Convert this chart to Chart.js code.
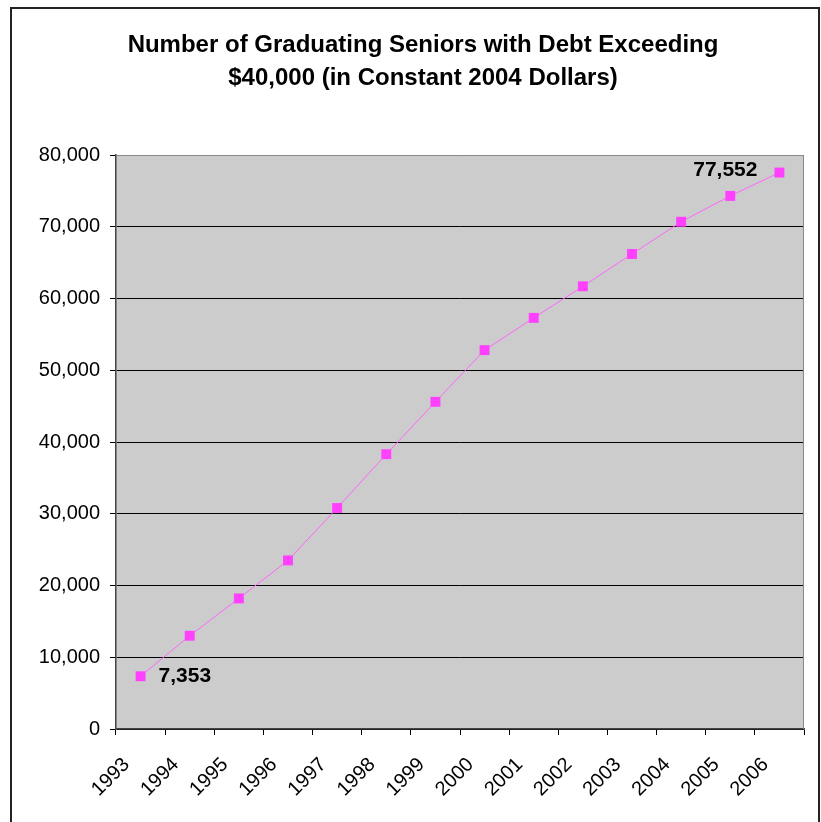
<!DOCTYPE html>
<html>
<head>
<meta charset="utf-8">
<script src="https://cdn.jsdelivr.net/npm/chart.js@4"></script>
<style>
  html, body { margin: 0; padding: 0; background: #fff; }
  #wrap { width: 821px; height: 822px; position: relative; }
</style>
</head>
<body>
<div id="wrap"><canvas id="lineChart"></canvas></div>
<script>
const anos = ["1993", "1994", "1995", "1996", "1997", "1998", "1999", "2000", "2001", "2002", "2003", "2004", "2005", "2006"];
const formandos = [7353, 13000, 18200, 23500, 30800, 38300, 45600, 52800, 57300, 61700, 66200, 70700, 74300, 77552];
const tituloLinhas = ["Number of Graduating Seniors with Debt Exceeding", "$40,000 (in Constant 2004 Dollars)"];

const fonte = '"Liberation Sans", Arial, sans-serif';

// fundo cinza, moldura externa e titulo
const fundo = {
    id: 'fundo',
    beforeDraw(chart) {
        const { ctx, chartArea: a } = chart;
        ctx.save();
        ctx.strokeStyle = '#222';
        ctx.lineWidth = 2;
        ctx.strokeRect(11, 8, 808, 900);
        ctx.fillStyle = '#cccccc';
        ctx.fillRect(a.left, a.top, a.right - a.left, a.bottom - a.top);
        ctx.fillStyle = '#000';
        ctx.font = 'bold 24px ' + fonte;
        ctx.textAlign = 'center';
        ctx.textBaseline = 'middle';
        ctx.fillText(tituloLinhas[0], 423, 45);
        ctx.fillText(tituloLinhas[1], 423, 78);
        ctx.restore();
    },
    afterDatasetsDraw(chart) {
        const { ctx, chartArea: a } = chart;
        ctx.save();
        ctx.strokeStyle = '#888';
        ctx.lineWidth = 1;
        ctx.beginPath();
        ctx.moveTo(a.right - 0.5, a.top);
        ctx.lineTo(a.right - 0.5, a.bottom);
        ctx.stroke();
        ctx.restore();
    }
};

// rotulos do primeiro e do ultimo ponto
const rotulos = {
    id: 'rotulos',
    afterDatasetsDraw(chart) {
        const { ctx } = chart;
        const pts = chart.getDatasetMeta(0).data;
        const n = pts.length - 1;
        ctx.save();
        ctx.font = 'bold 21px ' + fonte;
        ctx.fillStyle = '#000';
        ctx.textBaseline = 'middle';
        ctx.textAlign = 'left';
        ctx.fillText(formandos[0].toLocaleString('en-US'), pts[0].x + 18, pts[0].y);
        ctx.textAlign = 'right';
        ctx.fillText(formandos[n].toLocaleString('en-US'), pts[n].x - 22, pts[n].y - 2);
        ctx.restore();
    }
};

const ctxLine = document.getElementById('lineChart').getContext('2d');

const lineChart = new Chart(ctxLine, {
    type: 'line',
    data: {
        labels: anos,
        datasets: [{
            data: formandos,
            borderColor: '#ff66ff',
            borderWidth: 1,
            backgroundColor: '#ff40ff',
            pointStyle: 'rect',
            pointRadius: 7,
            pointBorderWidth: 0,
            tension: 0
        }]
    },
    options: {
        responsive: true,
        maintainAspectRatio: false,
        animation: false,
        layout: { padding: { left: 0, right: 17, top: 155, bottom: 0 } },
        plugins: {
            legend: { display: false },
            tooltip: { enabled: false },
            title: { display: false }
        },
        scales: {
            y: {
                min: 0,
                max: 80000,
                ticks: {
                    stepSize: 10000,
                    color: '#000',
                    padding: 10,
                    font: { family: fonte, size: 20 },
                    callback: (v) => v.toLocaleString('en-US')
                },
                grid: {
                    color: (c) => c.tick && c.tick.value === 80000 ? '#888' : '#000',
                    tickColor: '#000',
                    tickLength: 6
                },
                border: { color: '#444', width: 1.5 },
                afterFit: (s) => { s.width = 116; }
            },
            x: {
                offset: true,
                ticks: {
                    color: '#000',
                    minRotation: 45,
                    maxRotation: 45,
                    labelOffset: -14,
                    padding: 18,
                    font: { family: fonte, size: 20 }
                },
                grid: {
                    offset: true,
                    drawOnChartArea: false,
                    tickColor: '#000',
                    tickLength: 6
                },
                border: { color: '#444', width: 1.5 },
                afterFit: (s) => { s.height = 93; }
            }
        }
    },
    plugins: [fundo, rotulos]
});
</script>
</body>
</html>
